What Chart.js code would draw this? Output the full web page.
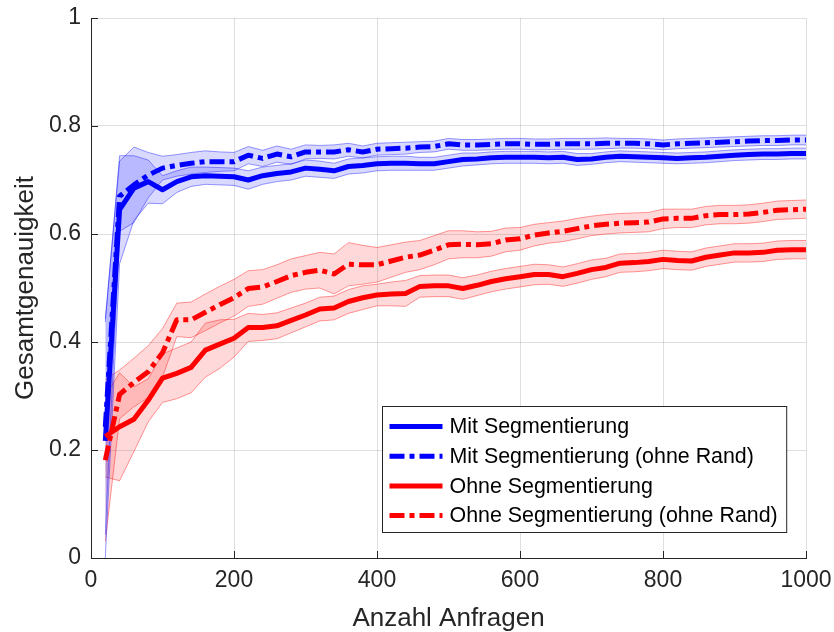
<!DOCTYPE html>
<html>
<head>
<meta charset="utf-8">
<script src="https://cdn.jsdelivr.net/npm/chart.js@4.4.1/dist/chart.umd.min.js"></script>
<style>
  body { margin: 0; background: #fff; }
  #wrap { width: 834px; height: 632px; }
</style>
</head>
<body>
<div id="wrap"><canvas id="chart" width="834" height="632"></canvas></div>
<script>
// x positions (Anzahl Anfragen)
const anfragen = [20, 40, 60, 80, 100, 120, 140, 160, 180, 200,
  220, 240, 260, 280, 300, 320, 340, 360, 380, 400,
  420, 440, 460, 480, 500, 520, 540, 560, 580, 600,
  620, 640, 660, 680, 700, 720, 740, 760, 780, 800,
  820, 840, 860, 880, 900, 920, 940, 960, 980, 1000];

// mean accuracy per series
const mitSeg = [0.217, 0.645, 0.685, 0.697, 0.682, 0.697, 0.706, 0.708, 0.707, 0.706,
  0.700, 0.708, 0.712, 0.715, 0.722, 0.720, 0.717, 0.725, 0.727, 0.730,
  0.731, 0.731, 0.730, 0.730, 0.734, 0.738, 0.739, 0.741, 0.742, 0.742,
  0.742, 0.741, 0.742, 0.738, 0.739, 0.742, 0.744, 0.743, 0.742, 0.741,
  0.740, 0.741, 0.742, 0.744, 0.746, 0.747, 0.748, 0.748, 0.749, 0.749];
const mitSegRand = [0.243, 0.670, 0.691, 0.709, 0.722, 0.727, 0.731, 0.734, 0.734, 0.734,
  0.746, 0.740, 0.748, 0.743, 0.752, 0.752, 0.752, 0.756, 0.752, 0.757,
  0.758, 0.759, 0.761, 0.762, 0.767, 0.765, 0.765, 0.766, 0.767, 0.767,
  0.766, 0.766, 0.767, 0.767, 0.767, 0.768, 0.768, 0.768, 0.767, 0.765,
  0.767, 0.768, 0.769, 0.770, 0.771, 0.772, 0.773, 0.773, 0.774, 0.774];
const ohneSeg = [0.225, 0.243, 0.257, 0.292, 0.333, 0.342, 0.353, 0.385, 0.396, 0.407,
  0.427, 0.427, 0.430, 0.440, 0.450, 0.461, 0.463, 0.475, 0.482, 0.487,
  0.489, 0.490, 0.503, 0.504, 0.504, 0.499, 0.505, 0.512, 0.517, 0.521,
  0.525, 0.525, 0.521, 0.527, 0.534, 0.538, 0.546, 0.547, 0.549, 0.553,
  0.551, 0.550, 0.557, 0.561, 0.565, 0.565, 0.566, 0.570, 0.571, 0.571];
const ohneSegRand = [0.181, 0.303, 0.325, 0.345, 0.380, 0.441, 0.441, 0.455, 0.469, 0.482,
  0.499, 0.502, 0.512, 0.523, 0.529, 0.533, 0.526, 0.544, 0.543, 0.543,
  0.550, 0.557, 0.561, 0.570, 0.580, 0.581, 0.580, 0.582, 0.589, 0.591,
  0.598, 0.602, 0.605, 0.610, 0.615, 0.618, 0.620, 0.621, 0.622, 0.628,
  0.629, 0.629, 0.634, 0.636, 0.636, 0.637, 0.640, 0.644, 0.645, 0.646];

// half width of the shaded bands
const mitSegStd = [0.220, 0.100, 0.060, 0.040, 0.026, 0.020, 0.018, 0.016, 0.016, 0.016,
  0.017, 0.016, 0.015, 0.015, 0.015, 0.015, 0.014, 0.014, 0.014, 0.013,
  0.013, 0.013, 0.012, 0.012, 0.012, 0.012, 0.011, 0.011, 0.011, 0.011,
  0.011, 0.011, 0.011, 0.011, 0.010, 0.010, 0.010, 0.010, 0.010, 0.010,
  0.010, 0.010, 0.010, 0.010, 0.010, 0.010, 0.010, 0.010, 0.010, 0.010];
const mitSegRandStd = [0.200, 0.065, 0.070, 0.042, 0.022, 0.020, 0.020, 0.020, 0.018, 0.017,
  0.016, 0.015, 0.015, 0.014, 0.013, 0.012, 0.013, 0.012, 0.011, 0.011,
  0.011, 0.011, 0.010, 0.010, 0.010, 0.010, 0.010, 0.010, 0.010, 0.010,
  0.010, 0.010, 0.010, 0.010, 0.010, 0.010, 0.009, 0.009, 0.009, 0.009,
  0.009, 0.009, 0.009, 0.009, 0.009, 0.009, 0.009, 0.009, 0.009, 0.009];
const ohneSegStd = [0.075, 0.100, 0.060, 0.040, 0.045, 0.047, 0.047, 0.050, 0.045, 0.035,
  0.026, 0.024, 0.024, 0.023, 0.022, 0.022, 0.022, 0.022, 0.022, 0.020,
  0.022, 0.024, 0.020, 0.020, 0.020, 0.020, 0.019, 0.019, 0.019, 0.019,
  0.019, 0.018, 0.018, 0.018, 0.018, 0.017, 0.017, 0.017, 0.017, 0.017,
  0.017, 0.017, 0.017, 0.017, 0.017, 0.017, 0.017, 0.017, 0.017, 0.017];
const ohneSegRandStd = [0.150, 0.045, 0.045, 0.048, 0.045, 0.031, 0.033, 0.034, 0.034, 0.034,
  0.033, 0.032, 0.031, 0.031, 0.031, 0.033, 0.037, 0.040, 0.036, 0.032,
  0.030, 0.028, 0.027, 0.027, 0.026, 0.025, 0.024, 0.023, 0.022, 0.021,
  0.020, 0.019, 0.019, 0.019, 0.018, 0.018, 0.018, 0.018, 0.018, 0.018,
  0.017, 0.017, 0.017, 0.017, 0.017, 0.017, 0.017, 0.017, 0.017, 0.017];

const xTicks = [0, 200, 400, 600, 800, 1000];
const yTicks = [0, 0.2, 0.4, 0.6, 0.8, 1];

const FONT = '"Liberation Sans", Arial, Helvetica, sans-serif';
const AXIS = '#262626';
const DASHDOT = [15, 5, 5, 5];

const series = [
  { label: 'Mit Segmentierung', mean: mitSeg, std: mitSegStd, rgb: '0,0,255', dash: [], order: 3 },
  { label: 'Mit Segmentierung (ohne Rand)', mean: mitSegRand, std: mitSegRandStd, rgb: '0,0,255', dash: DASHDOT, order: 2 },
  { label: 'Ohne Segmentierung', mean: ohneSeg, std: ohneSegStd, rgb: '255,0,0', dash: [], order: 1 },
  { label: 'Ohne Segmentierung (ohne Rand)', mean: ohneSegRand, std: ohneSegRandStd, rgb: '255,0,0', dash: DASHDOT, order: 0 }
];

function pts(vals) {
  return anfragen.map((x, i) => ({ x: x, y: vals[i] }));
}

const datasets = [];
// main lines first (shown in legend)
series.forEach(s => {
  datasets.push({
    label: s.label,
    inLegend: true,
    data: pts(s.mean),
    borderColor: 'rgb(' + s.rgb + ')',
    borderWidth: 5,
    borderDash: s.dash,
    borderCapStyle: 'butt',
    borderJoinStyle: 'round',
    pointRadius: 0,
    fill: false,
    order: s.order
  });
});
// shaded bands: upper edge then lower edge filled to it
series.forEach(s => {
  const upper = s.mean.map((m, i) => m + s.std[i]);
  const lower = s.mean.map((m, i) => Math.max(0, m - s.std[i]));
  datasets.push({
    label: s.label + ' upper',
    data: pts(upper),
    borderColor: 'rgba(' + s.rgb + ',0.4)',
    borderWidth: 1,
    pointRadius: 0,
    fill: false,
    order: 10
  });
  datasets.push({
    label: s.label + ' lower',
    data: pts(lower),
    borderColor: 'rgba(' + s.rgb + ',0.4)',
    backgroundColor: 'rgba(' + s.rgb + ',0.15)',
    borderWidth: 1,
    pointRadius: 0,
    fill: '-1',
    order: 10
  });
});

// MATLAB style ticks pointing into the plot
const inwardTicks = {
  id: 'inwardTicks',
  afterDatasetsDraw(chart) {
    const { ctx, chartArea: a, scales: { x, y } } = chart;
    ctx.save();
    ctx.strokeStyle = AXIS;
    ctx.lineWidth = 1;
    ctx.beginPath();
    xTicks.forEach(v => {
      const px = Math.round(x.getPixelForValue(v)) + 0.5;
      ctx.moveTo(px, a.bottom);
      ctx.lineTo(px, a.bottom - 7);
    });
    yTicks.forEach(v => {
      const py = Math.round(y.getPixelForValue(v)) + 0.5;
      ctx.moveTo(a.left, py);
      ctx.lineTo(a.left + 7, py);
    });
    ctx.stroke();
    ctx.restore();
  }
};

// boxed legend in the lower right of the plot area
const boxLegend = {
  id: 'boxLegend',
  afterDraw(chart) {
    const { ctx, chartArea: a } = chart;
    const items = chart.data.datasets.filter(d => d.inLegend);
    ctx.save();
    ctx.font = '21.4px ' + FONT;
    const textW = Math.max(...items.map(d => ctx.measureText(d.label).width));
    const rowH = 29.7, sample = 53, gap = 7, padL = 7, padR = 9;
    const w = padL + sample + gap + textW + padR;
    const h = 126;
    const right = a.right - 20, bottom = a.bottom - 26;
    const left = Math.round(right - w) + 0.5, top = Math.round(bottom - h) + 0.5;
    ctx.fillStyle = '#fff';
    ctx.fillRect(left, top, w, h);
    ctx.strokeStyle = AXIS;
    ctx.lineWidth = 1;
    ctx.strokeRect(left, top, w, h);
    items.forEach((d, i) => {
      const cy = top + 20 + i * rowH;
      ctx.beginPath();
      ctx.strokeStyle = d.borderColor;
      ctx.lineWidth = d.borderWidth;
      ctx.lineCap = 'butt';
      ctx.setLineDash(d.borderDash);
      ctx.moveTo(left + padL, cy);
      ctx.lineTo(left + padL + sample, cy);
      ctx.stroke();
      ctx.setLineDash([]);
      ctx.fillStyle = '#000';
      ctx.textAlign = 'left';
      ctx.textBaseline = 'middle';
      ctx.fillText(d.label, left + padL + sample + gap, cy + 1);
    });
    ctx.restore();
  }
};

new Chart(document.getElementById('chart'), {
  type: 'line',
  data: { datasets: datasets },
  options: {
    responsive: false,
    animation: false,
    layout: { padding: { top: 18, right: 28, left: 0, bottom: 0 } },
    plugins: {
      legend: { display: false },
      tooltip: { enabled: false }
    },
    scales: {
      x: {
        type: 'linear',
        min: 0,
        max: 1000,
        afterFit: s => { s.height = 74; s.paddingLeft = 0; s.paddingRight = 0; },
        afterBuildTicks: s => { s.ticks = xTicks.map(v => ({ value: v })); },
        ticks: {
          callback: v => String(v),
          color: AXIS,
          font: { family: FONT, size: 23 },
          padding: 9,
          maxRotation: 0
        },
        grid: { color: 'rgba(38,38,38,0.15)', drawTicks: false },
        border: { color: AXIS, width: 1 },
        title: {
          display: true,
          text: 'Anzahl Anfragen',
          color: AXIS,
          font: { family: FONT, size: 26 },
          padding: { top: 0, bottom: -2 }
        }
      },
      y: {
        type: 'linear',
        min: 0,
        max: 1,
        afterFit: s => { s.width = 91; s.paddingTop = 0; s.paddingBottom = 0; },
        afterBuildTicks: s => { s.ticks = yTicks.map(v => ({ value: v })); },
        ticks: {
          callback: v => String(v),
          color: AXIS,
          font: { family: FONT, size: 23 },
          padding: 10
        },
        grid: { color: 'rgba(38,38,38,0.15)', drawTicks: false },
        border: { color: AXIS, width: 1 },
        title: {
          display: true,
          text: 'Gesamtgenauigkeit',
          color: AXIS,
          font: { family: FONT, size: 26 },
          padding: { top: 10, bottom: 0 }
        }
      }
    }
  },
  plugins: [inwardTicks, boxLegend]
});
</script>
</body>
</html>
